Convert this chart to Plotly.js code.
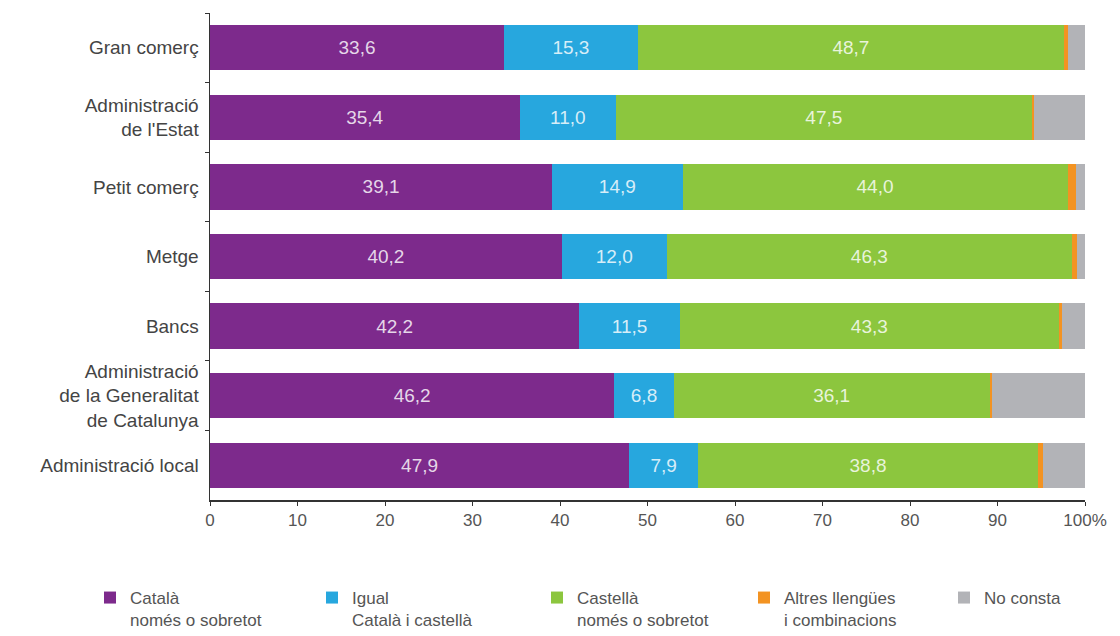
<!DOCTYPE html>
<html>
<head>
<meta charset="utf-8">
<script src="https://cdn.plot.ly/plotly-3.0.1.min.js"></script>
<style>html,body{margin:0;padding:0;background:#fff;}#chart{width:1120px;height:636px;}</style>
</head>
<body>
<div id="chart"></div>
<script>
const categories = ["Gran comerç", "Administració<br>de l'Estat", "Petit comerç", "Metge", "Bancs", "Administració<br>de la Generalitat<br>de Catalunya", "Administració local"];
const catala   = [33.6, 35.4, 39.1, 40.2, 42.2, 46.2, 47.9];
const igual    = [15.3, 11.0, 14.9, 12.0, 11.5, 6.8, 7.9];
const castella = [48.7, 47.5, 44.0, 46.3, 43.3, 36.1, 38.8];
const altres   = [0.5, 0.3, 1.0, 0.6, 0.4, 0.3, 0.6];
const noConsta = [1.9, 5.8, 1.0, 0.9, 2.6, 10.6, 4.8];
const seriesNames = ["Català<br>només o sobretot", "Igual<br>Català i castellà", "Castellà<br>només o sobretot", "Altres llengües<br>i combinacions", "No consta"];
const xTickVals = [0,10,20,30,40,50,60,70,80,90,100];
const xTickText = ["0","10","20","30","40","50","60","70","80","90","100%"];

const colors = ["#7d2a8c", "#27a7de", "#8cc63e", "#f39322", "#b2b3b7"];
const seriesVals = [catala, igual, castella, altres, noConsta];
const showText = [true, true, true, false, false];
const legendIds = ['legend', 'legend2', 'legend3', 'legend4', 'legend5'];
const legendX = [90, 312, 537, 744, 944];
const fmt = v => v.toFixed(1).replace('.', ',');
const FONT = 'Liberation Sans, Arial, Helvetica, sans-serif';

const traces = seriesVals.map((vals, i) => ({
  type: 'bar',
  orientation: 'h',
  name: seriesNames[i],
  legend: legendIds[i],
  y: categories,
  x: vals,
  marker: {color: colors[i], line: {width: 0}},
  text: showText[i] ? vals.map(fmt) : vals.map(() => ''),
  textposition: showText[i] ? 'inside' : 'none',
  insidetextanchor: 'middle',
  constraintext: 'none',
  textangle: 0,
  textfont: {family: FONT, size: 19, color: 'rgba(255,255,255,0.82)'},
  hoverinfo: 'skip',
  width: 0.65
}));

const layout = {
  width: 1120, height: 636,
  margin: {l: 210, r: 35, t: 13, b: 136, autoexpand: false},
  barmode: 'stack',
  paper_bgcolor: '#fff', plot_bgcolor: '#fff',
  font: {family: FONT, size: 19, color: '#444'},
  showlegend: true,
  xaxis: {
    range: [0, 100], tickvals: xTickVals, ticktext: xTickText,
    showgrid: false, zeroline: false, showline: true, linecolor: '#333', linewidth: 1.5,
    ticks: 'outside', ticklen: 4, tickcolor: '#333',
    tickfont: {size: 17, color: '#555'}, fixedrange: true
  },
  yaxis: {
    type: 'category', autorange: false, range: [6.5, -0.5],
    showgrid: false, zeroline: false, showline: true, linecolor: '#333', linewidth: 1.5,
    ticks: 'outside', ticklen: 4, tickcolor: '#333', tickson: 'boundaries',
    ticklabelstandoff: 6,
    tickfont: {size: 19, color: '#444'}, fixedrange: true
  }
};
legendIds.forEach((id, i) => {
  layout[id] = {
    orientation: 'v', xref: 'container', yref: 'container',
    x: legendX[i] / 1120, xanchor: 'left',
    y: 1 - 580 / 636, yanchor: 'top',
    valign: 'top', bgcolor: 'rgba(0,0,0,0)',
    font: {family: FONT, size: 17, color: '#555'},
    itemwidth: 30
  };
});

Plotly.newPlot('chart', traces, layout, {displayModeBar: false, staticPlot: true});
</script>
</body>
</html>
